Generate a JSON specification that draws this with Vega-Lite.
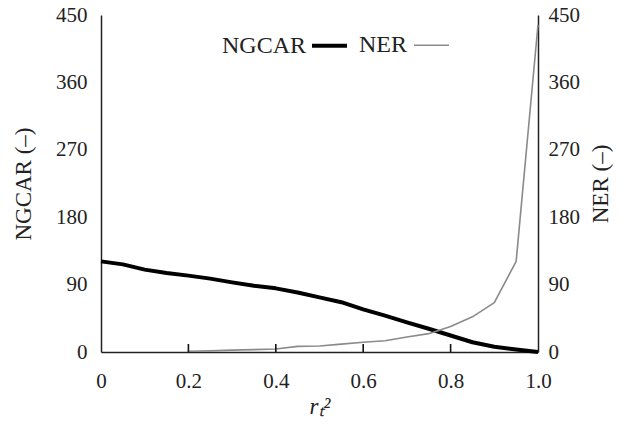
{
  "$schema": "https://vega.github.io/schema/vega-lite/v6.json",
  "width": 437,
  "height": 337,
  "autosize": {"type": "none"},
  "padding": {"left": 101, "top": 15, "right": 83, "bottom": 76},
  "background": "white",
  "config": {
    "view": {"stroke": null},
    "font": "Liberation Serif",
    "axis": {
      "ticks": false,
      "grid": false,
      "domainColor": "#222222",
      "domainWidth": 1.5,
      "labelFont": "Liberation Serif",
      "labelFontSize": 21,
      "labelColor": "#222222",
      "titleFont": "Liberation Serif",
      "titleFontSize": 23,
      "titleFontWeight": "normal",
      "titleColor": "#222222"
    }
  },
  "datasets": {
    "curves": [
      {"x": 0.0, "series": "NGCAR", "value": 121},
      {"x": 0.05, "series": "NGCAR", "value": 117},
      {"x": 0.1, "series": "NGCAR", "value": 110},
      {"x": 0.15, "series": "NGCAR", "value": 105.5},
      {"x": 0.2, "series": "NGCAR", "value": 102},
      {"x": 0.25, "series": "NGCAR", "value": 98},
      {"x": 0.3, "series": "NGCAR", "value": 93},
      {"x": 0.35, "series": "NGCAR", "value": 88.5},
      {"x": 0.4, "series": "NGCAR", "value": 85},
      {"x": 0.45, "series": "NGCAR", "value": 79.5},
      {"x": 0.5, "series": "NGCAR", "value": 73},
      {"x": 0.55, "series": "NGCAR", "value": 66.5},
      {"x": 0.6, "series": "NGCAR", "value": 57},
      {"x": 0.65, "series": "NGCAR", "value": 48.5},
      {"x": 0.7, "series": "NGCAR", "value": 39.5},
      {"x": 0.75, "series": "NGCAR", "value": 31},
      {"x": 0.8, "series": "NGCAR", "value": 22},
      {"x": 0.85, "series": "NGCAR", "value": 13},
      {"x": 0.9, "series": "NGCAR", "value": 7},
      {"x": 0.95, "series": "NGCAR", "value": 3.2},
      {"x": 1.0, "series": "NGCAR", "value": 0},
      {"x": 0.2, "series": "NER", "value": 1},
      {"x": 0.25, "series": "NER", "value": 1.5},
      {"x": 0.3, "series": "NER", "value": 2.5},
      {"x": 0.35, "series": "NER", "value": 3.2},
      {"x": 0.4, "series": "NER", "value": 4},
      {"x": 0.45, "series": "NER", "value": 7.5},
      {"x": 0.5, "series": "NER", "value": 8},
      {"x": 0.55, "series": "NER", "value": 10.5},
      {"x": 0.6, "series": "NER", "value": 13},
      {"x": 0.65, "series": "NER", "value": 15},
      {"x": 0.7, "series": "NER", "value": 20},
      {"x": 0.75, "series": "NER", "value": 24.5},
      {"x": 0.8, "series": "NER", "value": 34},
      {"x": 0.85, "series": "NER", "value": 47},
      {"x": 0.9, "series": "NER", "value": 66},
      {"x": 0.95, "series": "NER", "value": 121},
      {"x": 1.0, "series": "NER", "value": 437}
    ],
    "xticks": [{"x": 0.2}, {"x": 0.4}, {"x": 0.6}, {"x": 0.8}],
    "yticks": [{"t": 90}, {"t": 180}, {"t": 270}, {"t": 360}, {"t": 450}]
  },
  "data": {"name": "curves"},
  "encoding": {
    "x": {
      "field": "x",
      "type": "quantitative",
      "scale": {"domain": [0, 1], "nice": false},
      "axis": {
        "title": "rₜ²",
        "titleFontStyle": "italic",
        "values": [0, 0.2, 0.4, 0.6, 0.8, 1.0],
        "labelExpr": "datum.value == 0 ? '0' : format(datum.value, '.1f')",
        "labelPadding": 18,
        "titlePadding": 4,
        "labelFlush": false
      }
    }
  },
  "layer": [
    {
      "transform": [{"filter": "datum.series == 'NGCAR'"}],
      "mark": {"type": "line", "strokeJoin": "round", "strokeCap": "butt"},
      "encoding": {
        "y": {
          "field": "value",
          "type": "quantitative",
          "scale": {"domain": [0, 450], "nice": false},
          "axis": {
            "orient": "left",
            "title": "NGCAR (–)",
            "values": [0, 90, 180, 270, 360, 450],
            "labelPadding": 14,
            "titlePadding": 20
          }
        },
        "color": {
          "field": "series",
          "type": "nominal",
          "scale": {"domain": ["NGCAR", "NER"], "range": ["#000000", "#8a8a8a"]},
          "legend": {
            "orient": "none",
            "legendX": 209,
            "legendY": 11,
            "direction": "horizontal",
            "title": null,
            "symbolType": "stroke",
            "symbolSize": 1225,
            "labelAlign": "right",
            "labelOffset": -43,
            "labelFont": "Liberation Serif",
            "labelFontSize": 24,
            "labelColor": "#222222",
            "columnPadding": 4,
            "labelLimit": 300
          }
        },
        "strokeWidth": {
          "field": "series",
          "type": "nominal",
          "scale": {"domain": ["NGCAR", "NER"], "range": [4, 1.6]},
          "legend": {
            "orient": "none",
            "legendX": 209,
            "legendY": 11,
            "direction": "horizontal",
            "title": null,
            "symbolType": "stroke",
            "symbolSize": 1225,
            "labelAlign": "right",
            "labelOffset": -43,
            "labelFont": "Liberation Serif",
            "labelFontSize": 24,
            "labelColor": "#222222",
            "columnPadding": 4,
            "labelLimit": 300
          }
        }
      }
    },
    {
      "transform": [{"filter": "datum.series == 'NER'"}],
      "mark": {"type": "line", "strokeJoin": "round"},
      "encoding": {
        "y": {
          "field": "value",
          "type": "quantitative",
          "scale": {"domain": [0, 450], "nice": false},
          "axis": {
            "orient": "right",
            "title": "NER (–)",
            "titleAngle": 270,
            "titleBaseline": "top",
            "values": [0, 90, 180, 270, 360, 450],
            "labelPadding": 10,
            "titlePadding": 10
          }
        },
        "color": {"field": "series", "type": "nominal"},
        "strokeWidth": {"field": "series", "type": "nominal"}
      }
    },
    {
      "data": {"name": "xticks"},
      "mark": {"type": "rule", "color": "#111111", "strokeWidth": 1.6},
      "encoding": {
        "y": {"datum": 0, "type": "quantitative", "scale": {"domain": [0, 450], "nice": false}, "axis": null},
        "y2": {"datum": 10.7}
      }
    },
    {
      "data": {"name": "yticks"},
      "mark": {"type": "rule", "color": "#111111", "strokeWidth": 1.6},
      "encoding": {
        "x": {"datum": 0, "type": "quantitative"},
        "x2": {"datum": 0.016},
        "y": {"field": "t", "type": "quantitative", "scale": {"domain": [0, 450], "nice": false}, "axis": null}
      }
    },
    {
      "data": {"name": "yticks"},
      "mark": {"type": "rule", "color": "#111111", "strokeWidth": 1.6},
      "encoding": {
        "x": {"datum": 0.984, "type": "quantitative"},
        "x2": {"datum": 1},
        "y": {"field": "t", "type": "quantitative", "scale": {"domain": [0, 450], "nice": false}, "axis": null}
      }
    }
  ],
  "resolve": {"scale": {"y": "independent"}}
}
